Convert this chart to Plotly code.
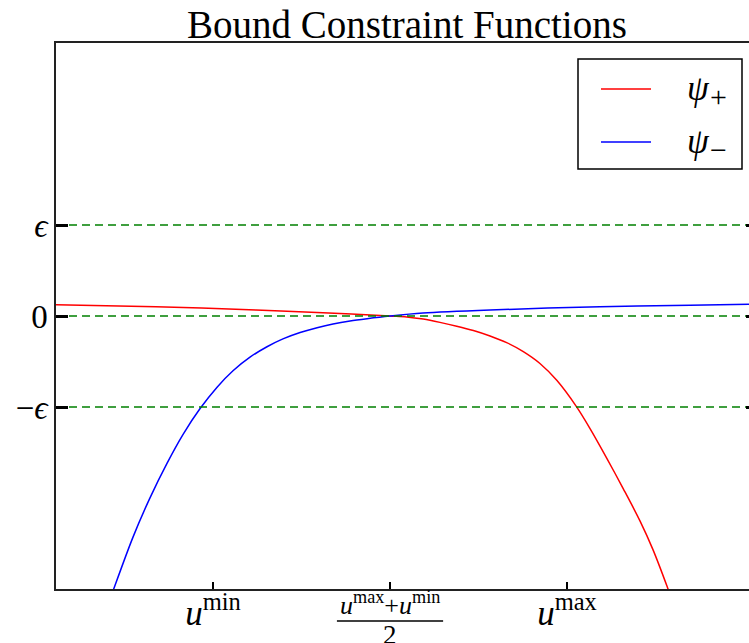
import plotly.graph_objects as go

# ---- data -------------------------------------------------------------
# normalised abscissa: u_min -> -1, midpoint -> 0, u_max -> 1 ; epsilon -> 1
u_pos = [-1.0, 0.0, 1.0]
u_labels = ["<i>u</i><sup>min</sup>", "", "<i>u</i><sup>max</sup>"]
eps_levels = [1.0, 0.0, -1.0]
eps_labels = ["<i>ϵ</i>", "0", "−<i>ϵ</i>"]

psi_plus_x = [-1.887, -1.322, -0.757, -0.379, 0.0, 0.094, 0.188, 0.282, 0.377,
              0.471, 0.565, 0.659, 0.753, 0.847, 0.942, 1.055, 1.130, 1.224,
              1.318, 1.412, 1.486, 1.565, 1.600]
psi_plus_y = [0.124, 0.102, 0.066, 0.036, 0.0, -0.010, -0.034, -0.070, -0.112,
              -0.160, -0.220, -0.293, -0.392, -0.522, -0.707, -1.001, -1.237, -1.561,
              -1.899, -2.252, -2.570, -2.970, -3.16]

psi_minus_x = [-1.588, -1.559, -1.452, -1.356, -1.260, -1.169, -1.073, -0.977, -0.887,
               -0.791, -0.695, -0.605, -0.508, -0.412, -0.322, -0.226, -0.130,
               0.0, 0.186, 0.565, 1.186, 1.695, 2.028]
psi_minus_y = [-3.15, -2.990, -2.430, -1.998, -1.619, -1.300, -1.017, -0.782, -0.602,
               -0.453, -0.338, -0.252, -0.182, -0.128, -0.087, -0.054, -0.029,
               0.0, 0.033, 0.066, 0.102, 0.118, 0.129]

legend_entries = [("<i>ψ</i>", "+", "#ff0000"), ("<i>ψ</i>", "−", "#0000ff")]

# ---- geometry -----------------------------------------------------------
W, H = 749, 643
L, T, R, B = 56, 43, 0, 54
X_RANGE = [-1.887, 2.028]
Y_RANGE = [-3.0, 3.0]
PW, PH = W - L - R, H - T - B

SERIF = "Liberation Serif"


def px_x(px):
    return (px - L) / PW


def px_y(py):
    return (H - B - py) / PH


fig = go.Figure()

fig.add_trace(go.Scatter(x=psi_plus_x, y=psi_plus_y, mode="lines", name="ψ+",
                         line=dict(color="#ff0000", width=1.5, shape="spline", smoothing=0.9),
                         showlegend=False))
fig.add_trace(go.Scatter(x=psi_minus_x, y=psi_minus_y, mode="lines", name="ψ−",
                         line=dict(color="#0000ff", width=1.5, shape="spline", smoothing=0.9),
                         showlegend=False))

# dashed reference levels at +eps, 0, -eps
for lvl in eps_levels:
    fig.add_trace(go.Scatter(x=X_RANGE, y=[lvl, lvl], mode="lines", yaxis="y2",
                             line=dict(color="#008000", width=1.5, dash="8px,5px"),
                             showlegend=False, hoverinfo="skip"))

shapes = []
annotations = []

# legend box
shapes.append(dict(type="rect", xref="paper", yref="paper",
                   x0=px_x(578), x1=px_x(742), y0=px_y(169), y1=px_y(59),
                   line=dict(color="black", width=1.5), fillcolor="white", layer="above"))
for i, (sym, sub, col) in enumerate(legend_entries):
    py = 89 + 53 * i
    shapes.append(dict(type="line", xref="paper", yref="paper",
                       x0=px_x(601), x1=px_x(651), y0=px_y(py), y1=px_y(py),
                       line=dict(color=col, width=1.5), layer="above"))
    annotations.append(dict(text=sym, xref="paper", yref="paper",
                            x=px_x(685), y=px_y(py - 1), xanchor="left", yanchor="middle",
                            showarrow=False, font=dict(family=SERIF, size=35, color="black")))
    annotations.append(dict(text=sub, xref="paper", yref="paper",
                            x=px_x(718), y=px_y(py + 7), xanchor="center", yanchor="middle",
                            showarrow=False, font=dict(family=SERIF, size=30, color="black")))

# title
annotations.append(dict(text="Bound Constraint Functions", xref="paper", yref="paper",
                        x=px_x(407), y=px_y(25), xanchor="center", yanchor="middle",
                        showarrow=False, font=dict(family=SERIF, size=39, color="black")))

# midpoint label as a stacked fraction
annotations.append(dict(text="<i>u</i><sup>max</sup>+<i>u</i><sup>min</sup>",
                        xref="x", yref="paper", x=u_pos[1], y=px_y(603),
                        xanchor="center", yanchor="middle", showarrow=False,
                        font=dict(family=SERIF, size=26, color="black")))
shapes.append(dict(type="line", xref="x", yref="paper",
                   x0=u_pos[1] - 0.30, x1=u_pos[1] + 0.30, y0=px_y(621), y1=px_y(621),
                   line=dict(color="black", width=1.5)))
annotations.append(dict(text="2", xref="x", yref="paper", x=u_pos[1], y=px_y(635),
                        xanchor="center", yanchor="middle", showarrow=False,
                        font=dict(family=SERIF, size=27, color="black")))

fig.update_layout(
    width=W, height=H,
    margin=dict(l=L, r=R, t=T, b=B, pad=0),
    paper_bgcolor="white", plot_bgcolor="white",
    showlegend=False,
    xaxis=dict(range=X_RANGE, showgrid=False, zeroline=False,
               showline=True, linecolor="#222", linewidth=1.5, mirror=True,
               ticks="inside", ticklen=7, tickwidth=2, tickcolor="black",
               tickvals=u_pos, ticktext=u_labels, ticklabelstandoff=-8,
               tickfont=dict(family=SERIF, size=35, color="black")),
    yaxis=dict(range=Y_RANGE, showgrid=False, zeroline=False,
               showline=True, linecolor="#222", linewidth=1.5, mirror=False,
               ticks="inside", ticklen=12, tickwidth=3, tickcolor="black",
               tickvals=eps_levels, ticktext=eps_labels, ticklabelstandoff=0,
               tickfont=dict(family=SERIF, size=33, color="black")),
    yaxis2=dict(range=Y_RANGE, overlaying="y", side="right", showgrid=False,
                zeroline=False, showline=False, ticks="inside", ticklen=3,
                tickwidth=3, tickcolor="black", tickvals=eps_levels,
                showticklabels=False),
    shapes=shapes,
    annotations=annotations,
)

fig.write_html("out.html")
